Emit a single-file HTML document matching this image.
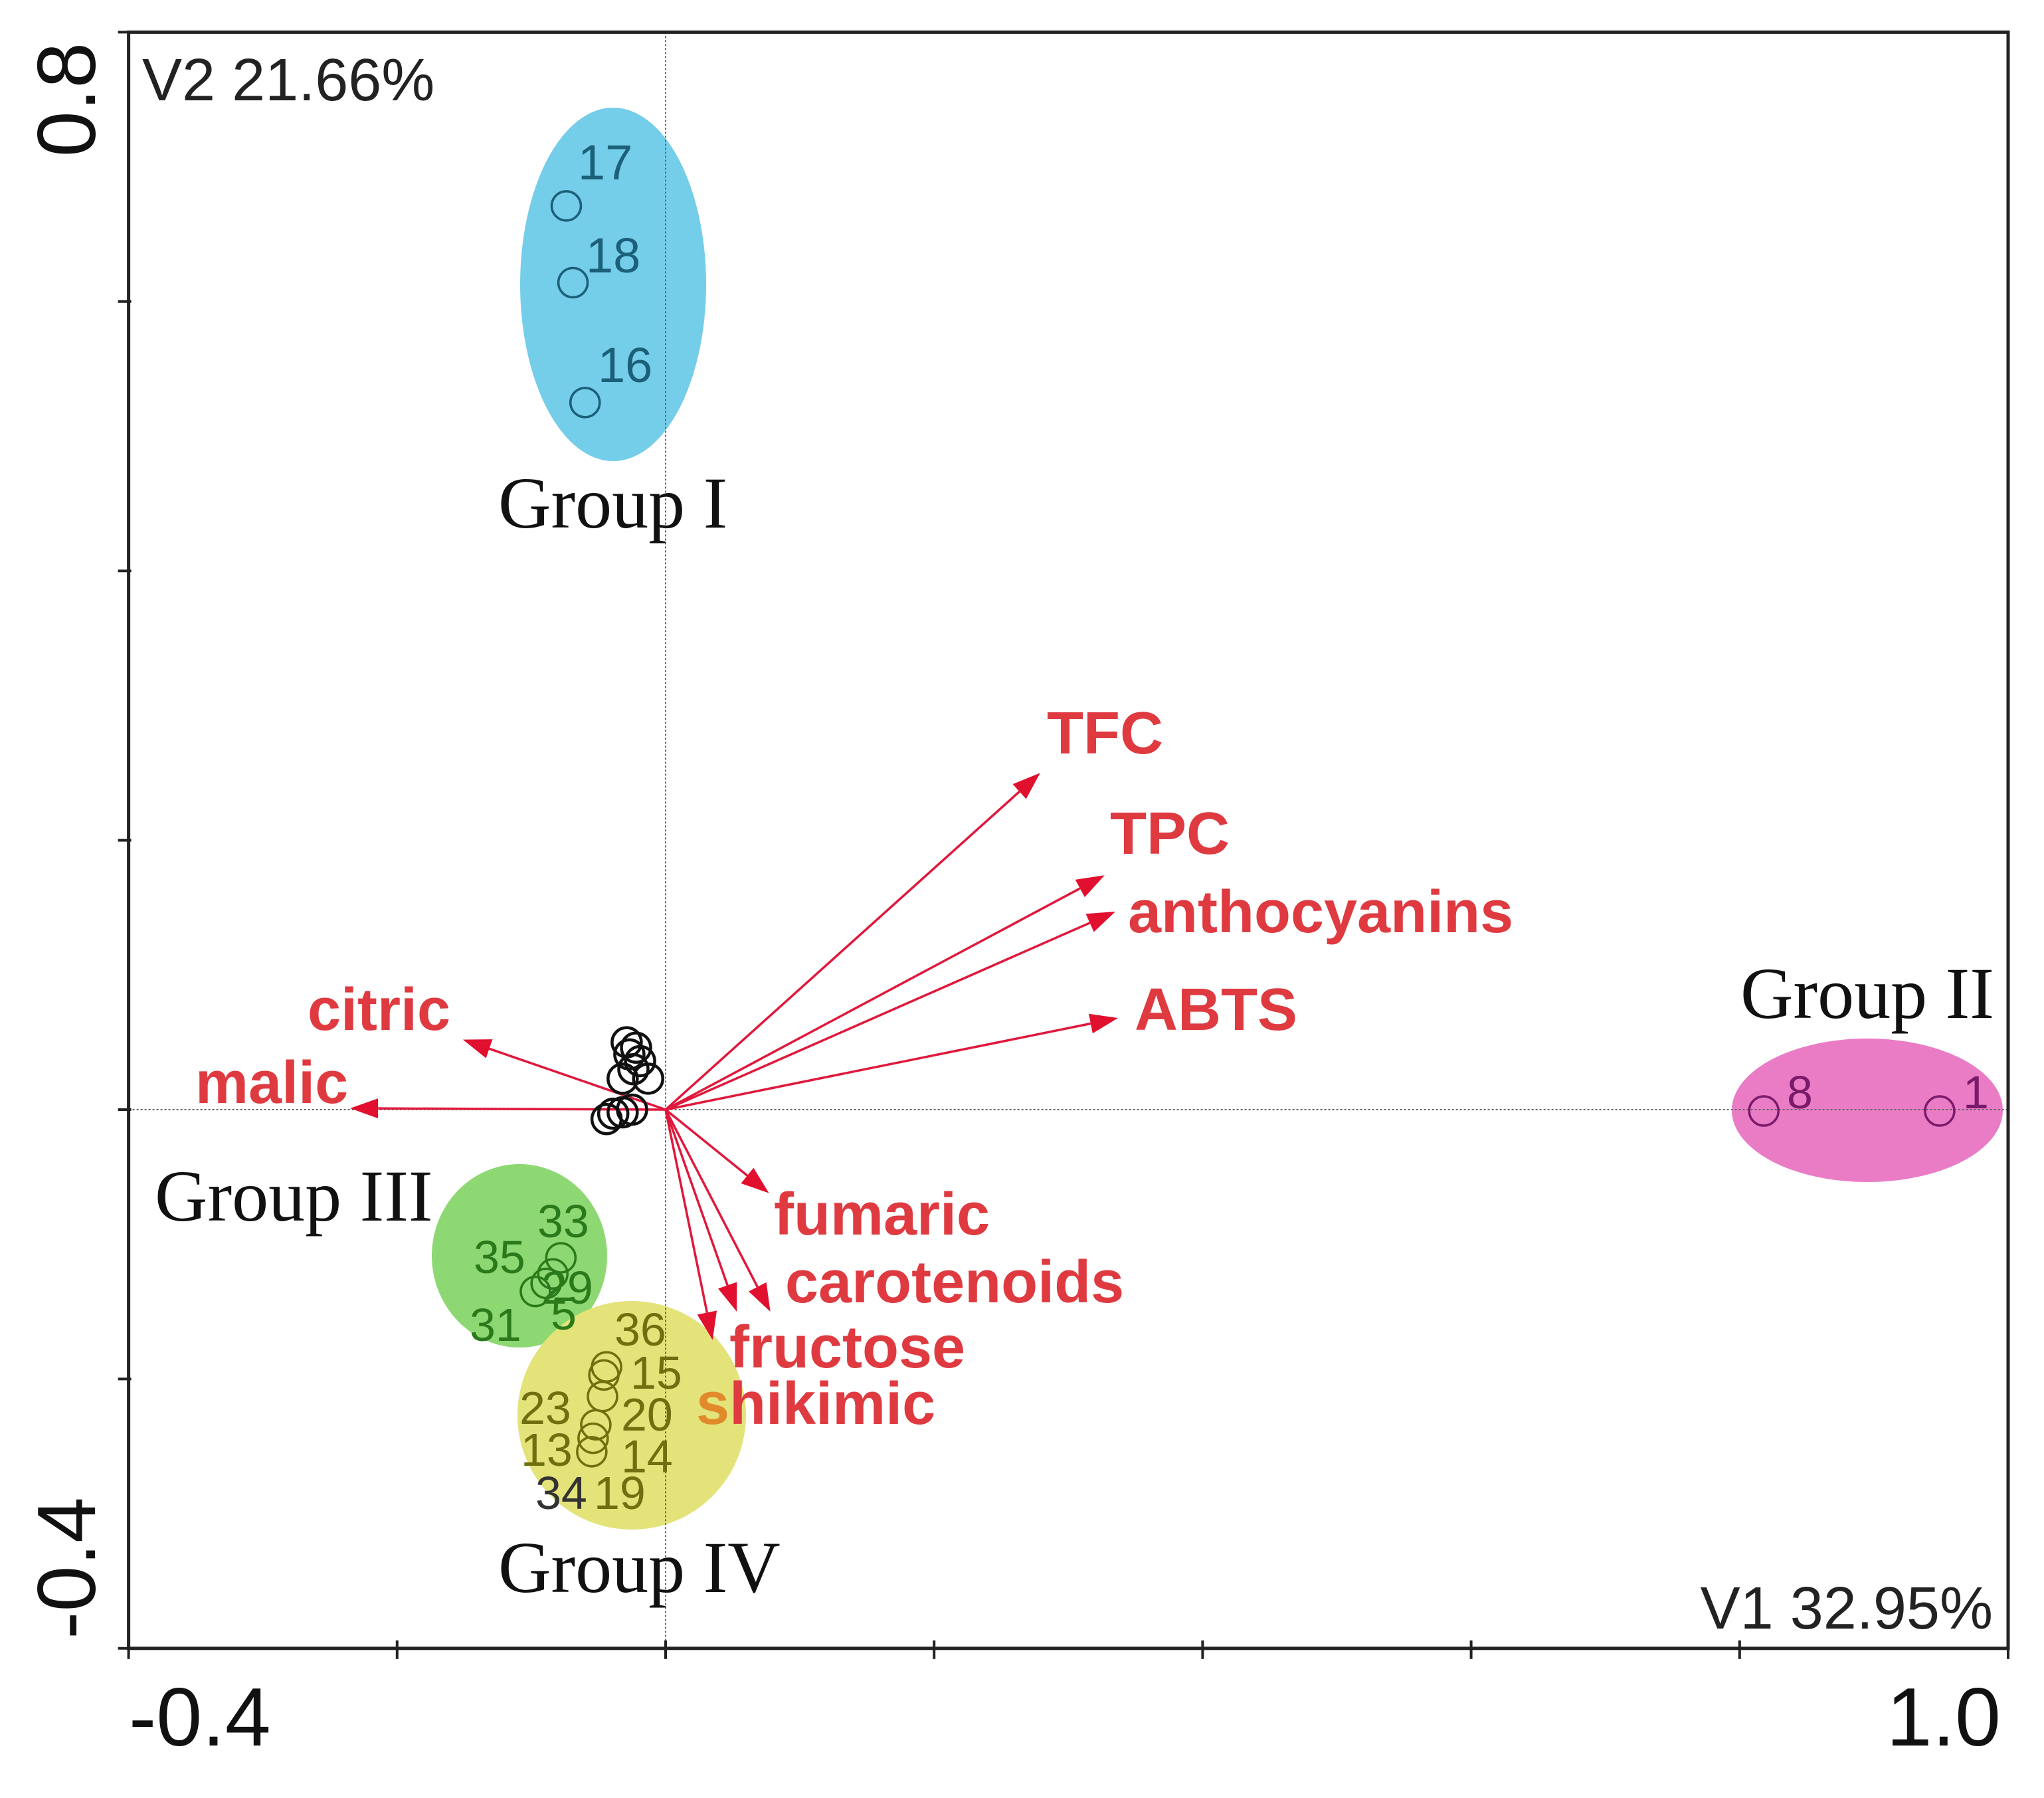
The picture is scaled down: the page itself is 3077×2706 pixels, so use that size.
<!DOCTYPE html>
<html><head><meta charset="utf-8"><title>PCA biplot</title>
<style>html,body{margin:0;padding:0;background:#fff}svg{display:block}</style></head>
<body>
<svg id="chart" width="3077" height="2706" viewBox="0 0 3077 2706" xmlns="http://www.w3.org/2000/svg">
<g id="groups"></g>
<g id="axes"></g>
<g id="vectors"></g>
<g id="points"></g>
<g id="labels"></g>
</svg>
<script>
// ---- data ----
const xTicks = [-0.4, -0.2, 0, 0.2, 0.4, 0.6, 0.8, 1.0];
const yTicks = [-0.4, -0.2, 0, 0.2, 0.4, 0.6, 0.8];
const vectorNames = ["TFC","TPC","anthocyanins","ABTS","citric","malic","fumaric","carotenoids","carotenoids2","fructose"];
const vectorX = [0.279, 0.327, 0.335, 0.337, -0.151, -0.235, 0.077, 0.078, 0.053, 0.035];
const vectorY = [0.250, 0.174, 0.147, 0.068, 0.052, 0.001, -0.062, -0.150, -0.150, -0.171];
const groupIX = [-0.074, -0.069, -0.060];
const groupIY = [0.671, 0.614, 0.525];
const groupIIX = [0.818, 0.949];
const groupIIY = [-0.001, -0.001];
const groupIIIX = [-0.078, -0.084, -0.089, -0.097];
const groupIIIY = [-0.110, -0.122, -0.129, -0.135];
const groupIVX = [-0.044, -0.046, -0.047, -0.052, -0.054, -0.055];
const groupIVY = [-0.191, -0.197, -0.213, -0.234, -0.244, -0.254];
const otherX = [-0.029, -0.022, -0.027, -0.019, -0.024, -0.013, -0.032, -0.039, -0.044, -0.032, -0.025];
const otherY = [0.050, 0.046, 0.041, 0.036, 0.030, 0.023, 0.023, -0.003, -0.007, -0.002, 0.000];

// ---- scales ----
const X0 = 1002, Y0 = 1670, KX = 2021, KY = 2027;
function sx(v){ return X0 + v*KX; }
function sy(v){ return Y0 - v*KY; }
const L = sx(-0.4), R = sx(1.0), T = sy(0.8), B = sy(-0.4);
const NS = "http://www.w3.org/2000/svg";
function mk(tag, parent, attrs){ const e=document.createElementNS(NS,tag); for(const k in attrs) e.setAttribute(k,attrs[k]); parent.appendChild(e); return e; }

// ---- group ellipses ----
const G = document.getElementById('groups');
let e;
e = mk('ellipse', G, {cx:923, cy:428, rx:140, ry:266, fill:'#74cde9'});


e = mk('ellipse', G, {cx:2811, cy:1671, rx:204, ry:108, fill:'#ea7cc6'});


e = mk('ellipse', G, {cx:782, cy:1890, rx:132, ry:138, fill:'#8dd872'});


e = mk('ellipse', G, {cx:951, cy:2130, rx:172, ry:172, fill:'#e3e37a'});



// ---- axes ----
const A = document.getElementById('axes');
e = mk('line', A, {x1:sx(0), y1:T, x2:sx(0), y2:B, stroke:'#666', 'stroke-width':2, 'stroke-dasharray':'3,3'});


e = mk('line', A, {x1:L, y1:sy(0), x2:R, y2:sy(0), stroke:'#666', 'stroke-width':2, 'stroke-dasharray':'3,3'});


e = mk('rect', A, {x:L, y:T, width:R-L, height:B-T, fill:'none', stroke:'#222', 'stroke-width':5});


xTicks.forEach(v=>{
  const t = mk('line', A, {x1:sx(v), y1:B-12, x2:sx(v), y2:B+16, stroke:'#222', 'stroke-width':4});
  
  
});
yTicks.forEach(v=>{
  const t = mk('line', A, {x1:L-16, y1:sy(v), x2:L+4, y2:sy(v), stroke:'#222', 'stroke-width':4});
  
  
});

// ---- vectors ----
const V = document.getElementById('vectors');
vectorX.forEach((vx,i)=>{
  const x1=sx(0), y1=sy(0), x2=sx(vx), y2=sy(vectorY[i]);
  const dx=x2-x1, dy=y2-y1, len=Math.hypot(dx,dy), ux=dx/len, uy=dy/len;
  const hl=42, hw=15, bx=x2-ux*hl, by=y2-uy*hl;
  const ln = mk('line', V, {x1:x1, y1:y1, x2:bx, y2:by, stroke:'#e0183c', 'stroke-width':3.5});
  
  
  const hd = mk('polygon', V, {points:`${x2},${y2} ${bx-uy*hw},${by+ux*hw} ${bx+uy*hw},${by-ux*hw}`, fill:'#e0102e'});
  
  
});

// ---- points ----
const P = document.getElementById('points');
function drawPts(xs, ys, color, name, w){
  xs.forEach((v,i)=>{
    const c = mk('circle', P, {cx:sx(v), cy:sy(ys[i]), r:22, fill:'none', stroke:color, 'stroke-width':w});
    
    
  });
}
drawPts(groupIX, groupIY, '#1b5f78', 'group-i-point', 3.5);
drawPts(groupIIX, groupIIY, '#7a1a6a', 'group-ii-point', 3.5);
drawPts(groupIIIX, groupIIIY, '#2a7a1c', 'group-iii-point', 3.5);
drawPts(groupIVX, groupIVY, '#6f6f10', 'group-iv-point', 3.5);
drawPts(otherX, otherY, '#111', 'ungrouped-point', 4.5);
</script>
<script>
// ---- static labels ----
const LB = document.getElementById('labels');
const labelsSpec = [
 ["V2 21.66%",214,151,90,"Liberation Sans","normal","#222","y-axis-variance-label","start"],
 ["V1 32.95%",3000,2451,90,"Liberation Sans","normal","#222","x-axis-variance-label","end"],
 ["-0.4",194,2627,124,"Liberation Sans","normal","#111","x-tick-label-min","start"],
 ["1.0",3012,2627,124,"Liberation Sans","normal","#111","x-tick-label-max","end"],
 ["TFC",1576,1134,90,"Liberation Sans","bold","#de3a40","label-tfc","start"],
 ["TPC",1671,1285,90,"Liberation Sans","bold","#de3a40","label-tpc","start"],
 ["anthocyanins",1698,1403,90,"Liberation Sans","bold","#de3a40","label-anthocyanins","start"],
 ["ABTS",1708,1550,90,"Liberation Sans","bold","#de3a40","label-abts","start"],
 ["citric",463,1550,90,"Liberation Sans","bold","#de3a40","label-citric","start"],
 ["malic",294,1660,90,"Liberation Sans","bold","#de3a40","label-malic","start"],
 ["fumaric",1165,1858,90,"Liberation Sans","bold","#de3a40","label-fumaric","start"],
 ["carotenoids",1182,1960,90,"Liberation Sans","bold","#de3a40","label-carotenoids","start"],
 ["fructose",1098,2058,90,"Liberation Sans","bold","#de3a40","label-fructose","start"],
 ["Group I",750,794,110,"Liberation Serif","normal","#111","group-i-label","start"],
 ["Group II",2620,1532,110,"Liberation Serif","normal","#111","group-ii-label","start"],
 ["Group III",233,1837,110,"Liberation Serif","normal","#111","group-iii-label","start"],
 ["Group IV",750,2396,110,"Liberation Serif","normal","#111","group-iv-label","start"],
 ["17",870,270,74,"Liberation Sans","normal","#1b5f78","point-label-17","start"],
 ["18",882,410,74,"Liberation Sans","normal","#1b5f78","point-label-18","start"],
 ["16",900,575,74,"Liberation Sans","normal","#1b5f78","point-label-16","start"],
 ["8",2690,1668,70,"Liberation Sans","normal","#7a1a6a","point-label-8","start"],
 ["1",2955,1668,70,"Liberation Sans","normal","#7a1a6a","point-label-1","start"],
 ["33",809,1862,70,"Liberation Sans","normal","#2a7a1c","point-label-33","start"],
 ["35",713,1916,70,"Liberation Sans","normal","#2a7a1c","point-label-35","start"],
 ["29",815,1962,70,"Liberation Sans","normal","#2a7a1c","point-label-29","start"],
 ["31",707,2018,70,"Liberation Sans","normal","#2a7a1c","point-label-31","start"],
 ["5",829,2001,70,"Liberation Sans","normal","#2a7a1c","point-label-5","start"],
 ["36",925,2025,70,"Liberation Sans","normal","#6f6f10","point-label-36","start"],
 ["15",949,2090,70,"Liberation Sans","normal","#6f6f10","point-label-15","start"],
 ["23",782,2143,70,"Liberation Sans","normal","#6f6f10","point-label-23","start"],
 ["20",935,2153,70,"Liberation Sans","normal","#6f6f10","point-label-20","start"],
 ["13",784,2206,70,"Liberation Sans","normal","#6f6f10","point-label-13","start"],
 ["14",935,2216,70,"Liberation Sans","normal","#6f6f10","point-label-14","start"],
 ["34",806,2271,70,"Liberation Sans","normal","#333","point-label-34","start"],
 ["19",894,2271,70,"Liberation Sans","normal","#6f6f10","point-label-19","start"]
];
labelsSpec.forEach(s=>{
  const t=document.createElementNS("http://www.w3.org/2000/svg","text");
  t.setAttribute('x',s[1]); t.setAttribute('y',s[2]);
  t.setAttribute('font-size',s[3]); t.setAttribute('font-family',s[4]+', sans-serif');
  t.setAttribute('font-weight',s[5]); t.setAttribute('fill',s[6]); t.setAttribute('text-anchor',s[8]);
  
  
  t.textContent=s[0]; LB.appendChild(t);
});
</script>
<svg style="position:absolute;left:0;top:0" width="3077" height="2706" viewBox="0 0 3077 2706">
<text x="1048" y="2143" font-size="90" font-family="Liberation Sans, sans-serif" font-weight="bold" fill="#de3a40"><tspan fill="#e08a2c">s</tspan>hikimic</text>
<text transform="translate(143,150) rotate(-90)" font-size="124" font-family="Liberation Sans, sans-serif" fill="#111" text-anchor="middle">0.8</text>
<text transform="translate(143,2360) rotate(-90)" font-size="124" font-family="Liberation Sans, sans-serif" fill="#111" text-anchor="middle">-0.4</text>
</svg>
</body></html>
